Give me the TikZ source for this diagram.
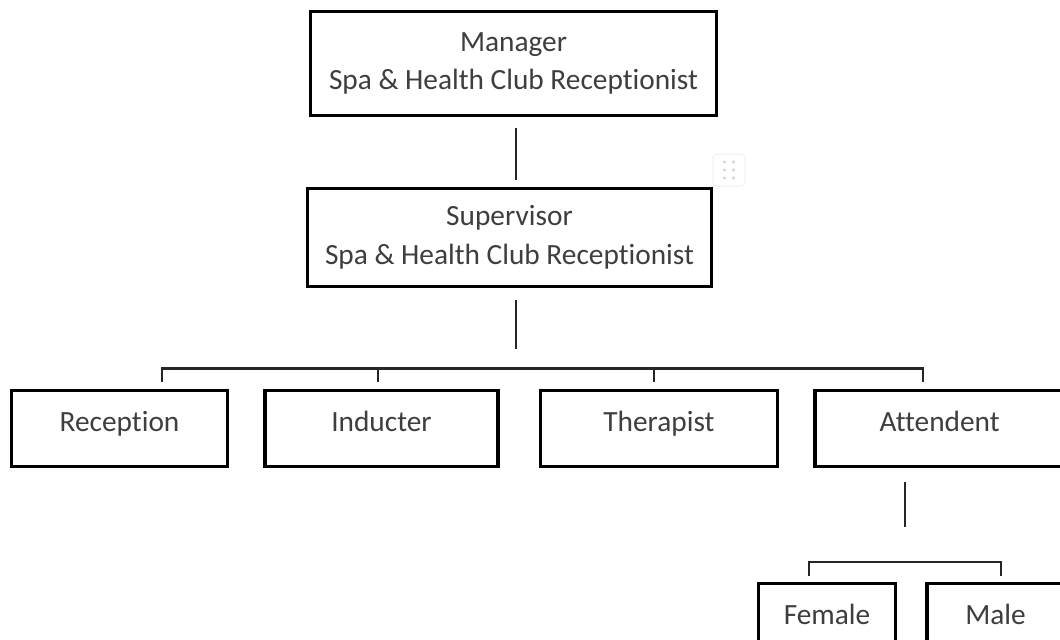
\documentclass[tikz,border=0pt]{standalone}
\usepackage{fontspec}
\setmainfont{Carlito}[Ligatures=NoCommon]
\usepackage{tikz}
\usetikzlibrary{positioning,calc}
\definecolor{inkgrey}{RGB}{62,62,62}
\definecolor{gripgrey}{RGB}{210,210,210}
\tikzset{
  post/.style={draw=black,line width=2.6pt,fill=white,align=center,
               text=inkgrey,inner sep=0pt},
  head/.style={post,minimum width=304.5pt,minimum height=78pt},
  staff/.style={post,minimum height=57pt,text height=14pt,text depth=9pt},
  orgline/.style={draw=black!85,line width=1.9pt},
  grip/.style={draw=black!6,fill=white,rounded corners=3pt,line width=.75pt,
               minimum size=24pt,inner sep=0pt},
}

\begin{document}
\begin{tikzpicture}[x=0.75pt,y=-0.75pt,font=\fontsize{22}{29}\selectfont]
  \useasboundingbox (0,0) rectangle (1060,639);
  % top of the chart
  \node[head] (mgr) at (513.5,63.5) {Manager\\Spa \& Health Club Receptionist};
  \node[head,minimum width=303pt,minimum height=73.5pt] (sup) at (509.5,237.5)
    {Supervisor\\Spa \& Health Club Receptionist};
  \node[grip] (handle) at (729,170) {};
  \foreach \dx in {-4.5,4.5}{
    \foreach \dy in {-8,0,8}{\fill[gripgrey] ($(handle)+(\dx,\dy)$) circle (1.3pt);}}
  % staff row
  \node[staff,minimum width=162pt] (rec) at (119.5,428.5) {Reception};
  \node[staff,minimum width=174.75pt,right=25.5pt of rec] (ind) {Inducter};
  \node[staff,minimum width=177.75pt,right=29.25pt of ind] (ther) {Therapist};
  \node[staff,minimum width=187pt,right=25.5pt of ther] (att) {Attendent};
  % attendent split
  \node[staff,minimum width=102.75pt] (fem) at (827,621.5) {Female};
  \node[staff,minimum width=102.75pt,right=21pt of fem] (male) {Male};
  % links
  \draw[orgline,shorten <=8.25pt,shorten >=5.25pt]
    ([xshift=1.9pt]mgr.south) -- ([xshift=1.9pt]mgr.south |- sup.north);
  \coordinate (busL) at (162,368.5);
  \coordinate (busR) at (923,368.5);
  \draw[orgline,shorten <=9pt,shorten >=14.6pt]
    ([xshift=4.9pt]sup.south) -- ([xshift=4.9pt]sup.south |- busL);
  \draw[orgline,shorten <=5.25pt,shorten >=5.25pt]
    (busL |- rec.north) -- (busL) -- (busR) -- (busR |- att.north);
  \foreach \n/\x in {ind/378,ther/654}{
    \coordinate (tap-\n) at (\x,368.5);
    \draw[orgline,shorten >=5.25pt] (tap-\n) -- (tap-\n |- \n.north);}
  \coordinate (subL) at (809,562);
  \coordinate (subR) at (1001,562);
  \draw[orgline,shorten <=10.5pt,shorten >=26.25pt]
    ([xshift=-26pt]att.south) -- ([xshift=-26pt]att.south |- subL);
  \draw[orgline,shorten <=4.5pt,shorten >=4.5pt]
    (subL |- fem.north) -- (subL) -- (subR) -- (subR |- male.north);
\end{tikzpicture}
\end{document}
